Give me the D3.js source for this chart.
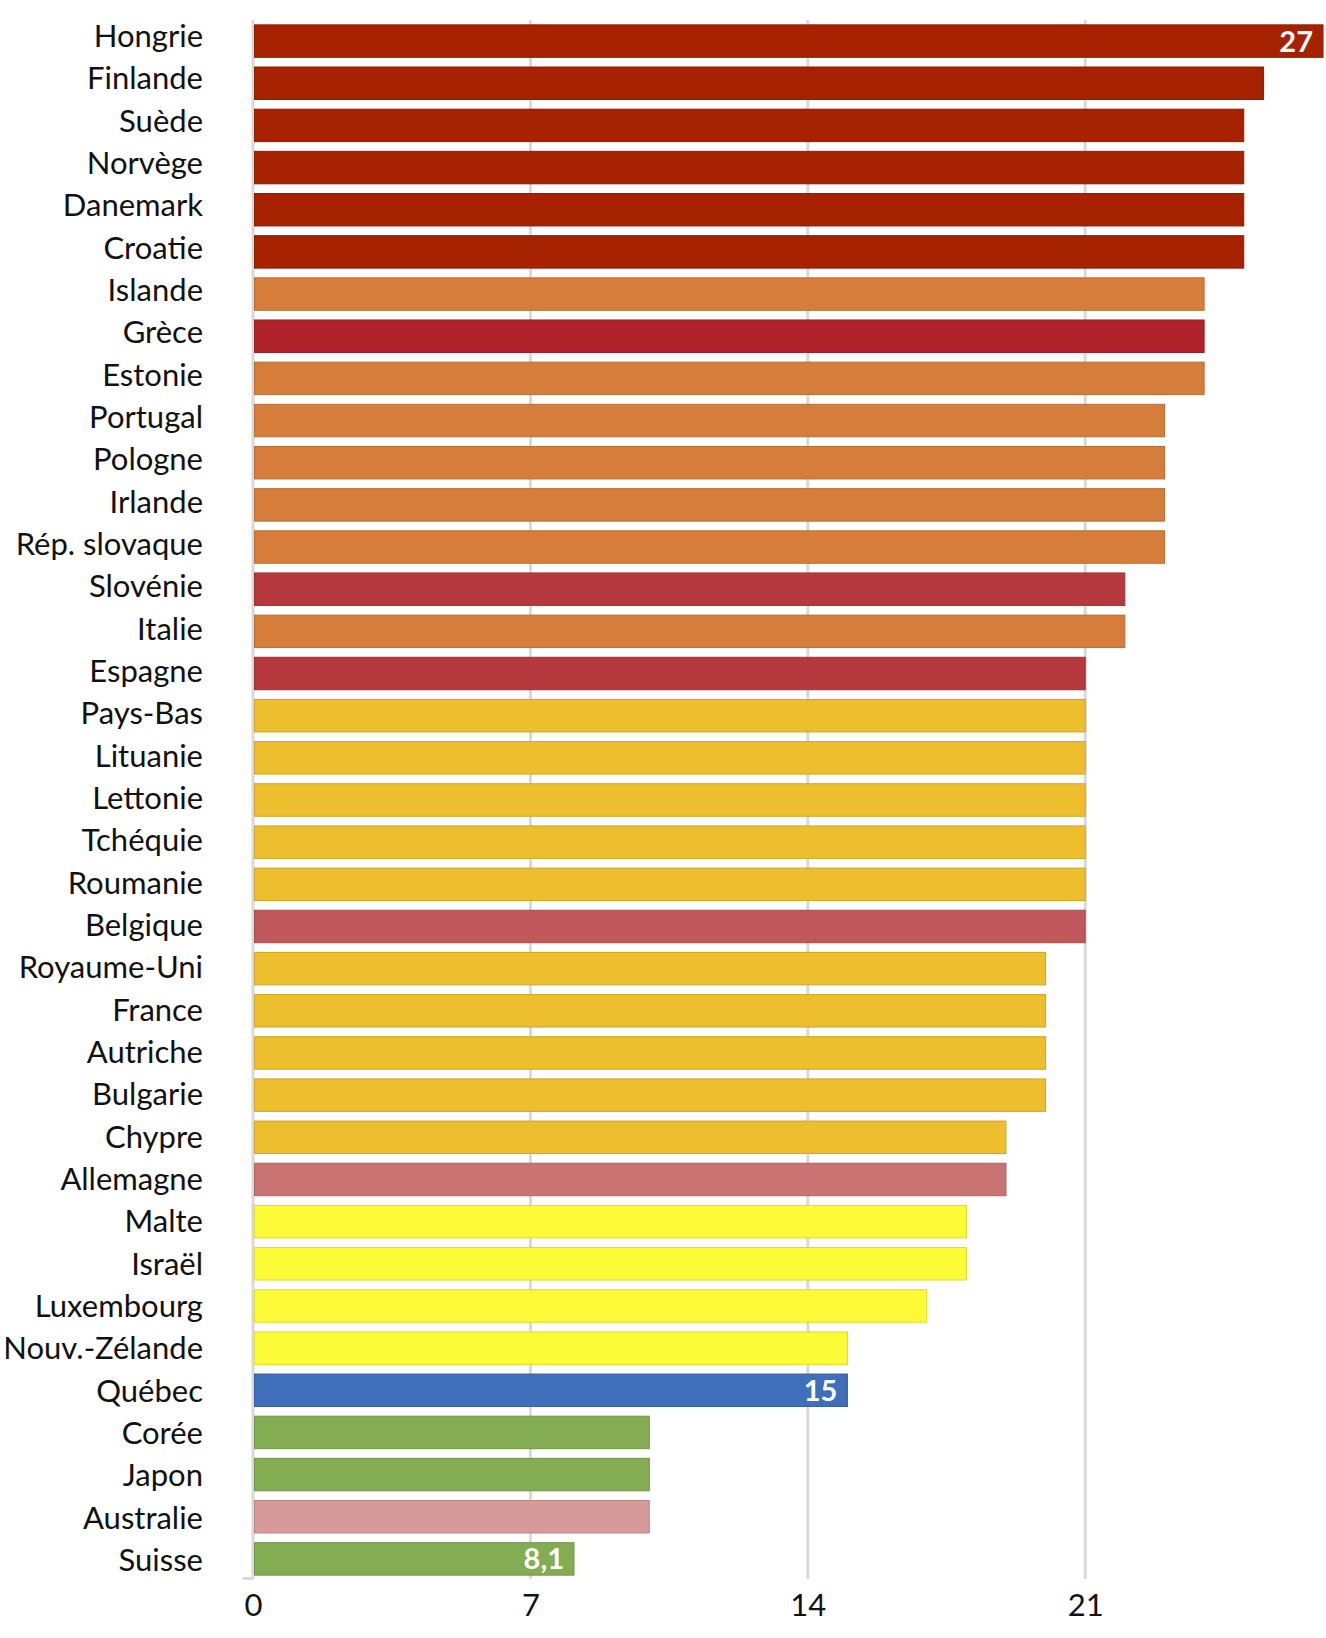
<!DOCTYPE html>
<html>
<head>
<meta charset="utf-8">
<script src="https://cdn.jsdelivr.net/npm/d3@7"></script>
<style>
  html, body { margin: 0; padding: 0; background: #fff; }
  svg { display: block; }
</style>
</head>
<body>
<script>
const categories = ["Hongrie","Finlande","Suède","Norvège","Danemark","Croatie","Islande","Grèce","Estonie","Portugal","Pologne","Irlande","Rép. slovaque","Slovénie","Italie","Espagne","Pays-Bas","Lituanie","Lettonie","Tchéquie","Roumanie","Belgique","Royaume-Uni","France","Autriche","Bulgarie","Chypre","Allemagne","Malte","Israël","Luxembourg","Nouv.-Zélande","Québec","Corée","Japon","Australie","Suisse"];
const values = [27,25.5,25,25,25,25,24,24,24,23,23,23,23,22,22,21,21,21,21,21,21,21,20,20,20,20,19,19,18,18,17,15,15,10,10,10,8.1];
const groups = ["g1","g1","g1","g1","g1","g1","g2","g3","g2","g2","g2","g2","g2","g4","g2","g4","g5","g5","g5","g5","g5","g6","g5","g5","g5","g5","g5","g7","g8","g8","g8","g8","g9","g10","g10","g11","g10"];
const valueLabels = {"Hongrie":"27","Québec":"15","Suisse":"8,1"};
const tickValues = [0,7,14,21];

const groupColors = {
  g1:"#a52100", g2:"#d67d3c", g3:"#b1232a", g4:"#b6393e", g5:"#edbe2e",
  g6:"#c0575a", g7:"#c97373", g8:"#fdfb37", g9:"#3e6fbb", g10:"#84ac52", g11:"#d79a9a"
};

const W = 1326, H = 1638;
const svg = d3.select("body").append("svg").attr("width", W).attr("height", H)
  .style("font-family", "Lato, 'Open Sans', sans-serif");

const x = d3.scaleLinear().domain([0, 27]).range([253, 1323]);
const y = d3.scaleBand().domain(categories).range([20, 1580]).paddingInner(0.23).paddingOuter(0.115);
const yLab = d3.scalePoint().domain(categories).range([36, 1560]);

// gridlines
svg.append("g").selectAll("line").data(tickValues.slice(1)).join("line")
  .attr("x1", d => x(d)).attr("x2", d => x(d))
  .attr("y1", 20).attr("y2", 1579)
  .attr("stroke", "#d9d9d9").attr("stroke-width", 3);

// axis line
svg.append("line").attr("x1", x(0)).attr("x2", x(0)).attr("y1", 20).attr("y2", 1579)
  .attr("stroke", "#d9d9d9").attr("stroke-width", 3);
svg.append("line").attr("x1", x(0) - 10).attr("x2", x(0)).attr("y1", 1578.5).attr("y2", 1578.5)
  .attr("stroke", "#d9d9d9").attr("stroke-width", 3);

const data = categories.map((c, i) => ({c, v: values[i], g: groups[i]}));

// bars
svg.append("g").selectAll("rect").data(data).join("rect")
  .attr("x", x(0) + 1.5)
  .attr("y", d => y(d.c))
  .attr("width", d => x(d.v) - x(0) - 1.5)
  .attr("height", y.bandwidth())
  .attr("fill", d => groupColors[d.g])
  .attr("stroke", d => d3.color(groupColors[d.g]).darker(0.4))
  .attr("stroke-width", 1);

// category labels
svg.append("g").selectAll("text").data(data).join("text")
  .attr("x", 203)
  .attr("y", d => yLab(d.c))
  .attr("dy", "0.36em")
  .attr("text-anchor", "end")
  .attr("font-size", 31)
  .attr("fill", "#111")
  .text(d => d.c);

// value labels
svg.append("g").selectAll("text").data(data.filter(d => valueLabels[d.c])).join("text")
  .attr("x", d => x(d.v) - 10)
  .attr("y", d => y(d.c) + y.bandwidth() / 2)
  .attr("dy", "0.36em")
  .attr("text-anchor", "end")
  .attr("font-size", 29)
  .attr("font-weight", "bold")
  .attr("fill", "#fff")
  .text(d => valueLabels[d.c]);

// x axis
const axis = d3.axisBottom(x).tickValues(tickValues).tickSize(0).tickPadding(0).tickFormat(d3.format("d"));
const gx = svg.append("g").attr("transform", "translate(0,1592)").call(axis);
gx.select(".domain").remove();
gx.selectAll("text").attr("font-size", 31).attr("fill", "#111").attr("font-family", "Lato, 'Open Sans', sans-serif").attr("dy", "0.78em");
</script>
</body>
</html>
